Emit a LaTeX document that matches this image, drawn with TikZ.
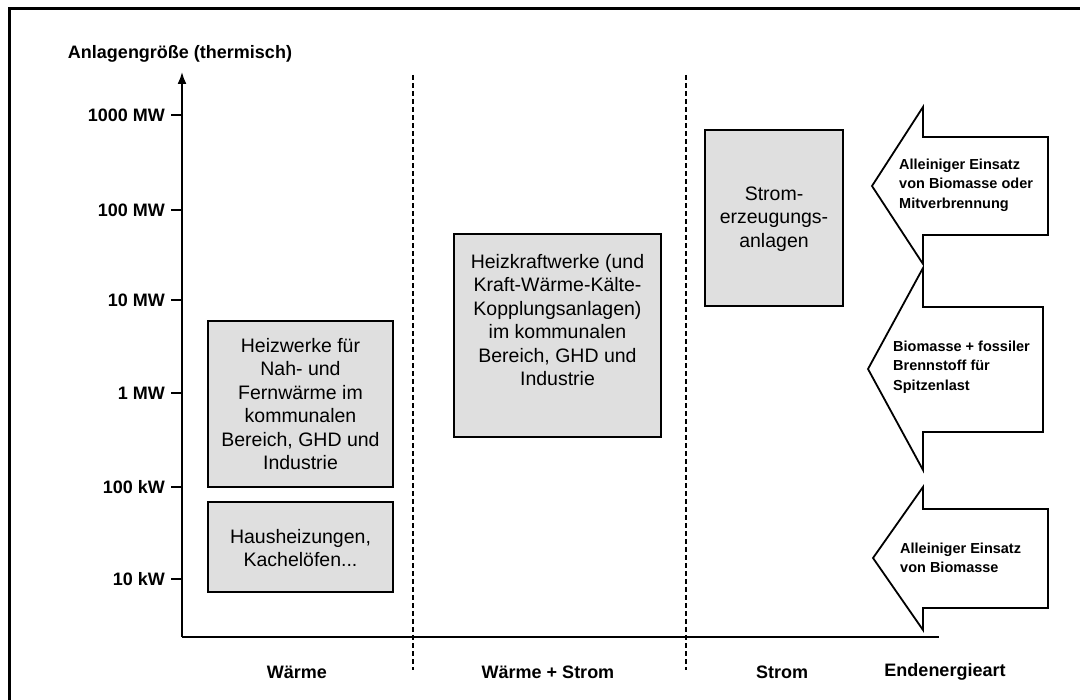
\documentclass[tikz,border=0pt]{standalone}
\usepackage{fontspec}
\setmainfont{Liberation Sans}
\usetikzlibrary{arrows.meta}
\begin{document}
\begin{tikzpicture}[x=1pt,y=-1pt,
  axlabel/.style={font=\fontsize{18}{21}\selectfont\bfseries, inner sep=0pt},
  ticklabel/.style={font=\fontsize{18}{21}\selectfont\bfseries, anchor=east, inner sep=0pt},
  graybox/.style={draw=black, line width=1.8pt, fill=gray!25, minimum width=#1},
  boxtext/.style={font=\fontsize{19.5}{23.5}\selectfont, align=center, inner sep=0pt},
  arrowtext/.style={font=\fontsize{14.5}{19.5}\selectfont\bfseries, align=left, anchor=west, inner sep=0pt},
  bigarrow/.style={draw=black, line width=1.8pt, fill=white, line join=miter},
  divider/.style={line width=1.3pt, dash pattern=on 5pt off 3pt},
  axisline/.style={line width=1.8pt}
]
\useasboundingbox (0,0) rectangle (1080,700);
% frame
\draw[line width=3pt] (9,705) -- (9,9) -- (1085,9);

% axes
\coordinate (origin) at (182,637);
\coordinate (ytop) at (182,72);
\coordinate (xend) at (939,637);
\draw[axisline, -{Latex[length=12pt,width=9pt]}] (origin) -- (ytop);
\draw[axisline] (origin) -- (xend);
\node[axlabel] (ytitle) at (180,54) {Anlagengröße (thermisch)};

% ticks
\foreach \y/\lab/\nm in {115/1000 MW/t1, 210/100 MW/t2, 300/10 MW/t3, 393/1 MW/t4, 487/100 kW/t5, 579/10 kW/t6}{
  \coordinate (\nm a) at (171,\y);
  \coordinate (\nm b) at (182,\y);
  \draw[line width=1.5pt] (\nm a) -- (\nm b);
  \node[ticklabel] (\nm) at (165,\y) {\lab};
}

% dividers
\coordinate (d1t) at (413,75); \coordinate (d1b) at (413,670);
\coordinate (d2t) at (686,75); \coordinate (d2b) at (686,670);
\draw[divider] (d1t) -- (d1b);
\draw[divider] (d2t) -- (d2b);

% boxes
\draw[graybox] (208,321) rectangle (393,487);
\node[boxtext] (b1) at (300.5,404) {Heizwerke für\\Nah- und\\Fernwärme im\\kommunalen\\Bereich, GHD und\\Industrie};
\draw[graybox] (208,502) rectangle (393,592);
\node[boxtext] (b2) at (300.5,548) {Hausheizungen,\\Kachelöfen...};
\draw[graybox] (454,234) rectangle (661,437);
\node[boxtext] (b3) at (557.5,320) {Heizkraftwerke (und\\Kraft-Wärme-Kälte-\\Kopplungsanlagen)\\im kommunalen\\Bereich, GHD und\\Industrie};
\draw[graybox] (705,130) rectangle (843,306);
\node[boxtext] (b4) at (774,219) {Strom-\\erzeugungs-\\anlagen};

% big arrows
\draw[bigarrow] (1048,137) -- (923,137) -- (923,107) -- (872,186) -- (923,264) -- (923,235) -- (1048,235) -- cycle;
\node[arrowtext] (a1) at (899,185) {Alleiniger Einsatz\\von Biomasse oder\\Mitverbrennung};
\draw[bigarrow] (1043,307) -- (923,307) -- (923,268) -- (868,369) -- (923,470) -- (923,432) -- (1043,432) -- cycle;
\node[arrowtext] (a2) at (893,367) {Biomasse + fossiler\\Brennstoff für\\Spitzenlast};
\draw[bigarrow] (1048,509) -- (923,509) -- (923,487) -- (873,558) -- (923,630) -- (923,608) -- (1048,608) -- cycle;
\node[arrowtext] (a3) at (900,558) {Alleiniger Einsatz\\von Biomasse};

% bottom labels
\node[axlabel] (l1) at (297,672) {Wärme};
\node[axlabel] (l2) at (548,672) {Wärme + Strom};
\node[axlabel] (l3) at (782,672) {Strom};
\node[axlabel] (l4) at (945,672) {Endenergieart};
\end{tikzpicture}
\end{document}
